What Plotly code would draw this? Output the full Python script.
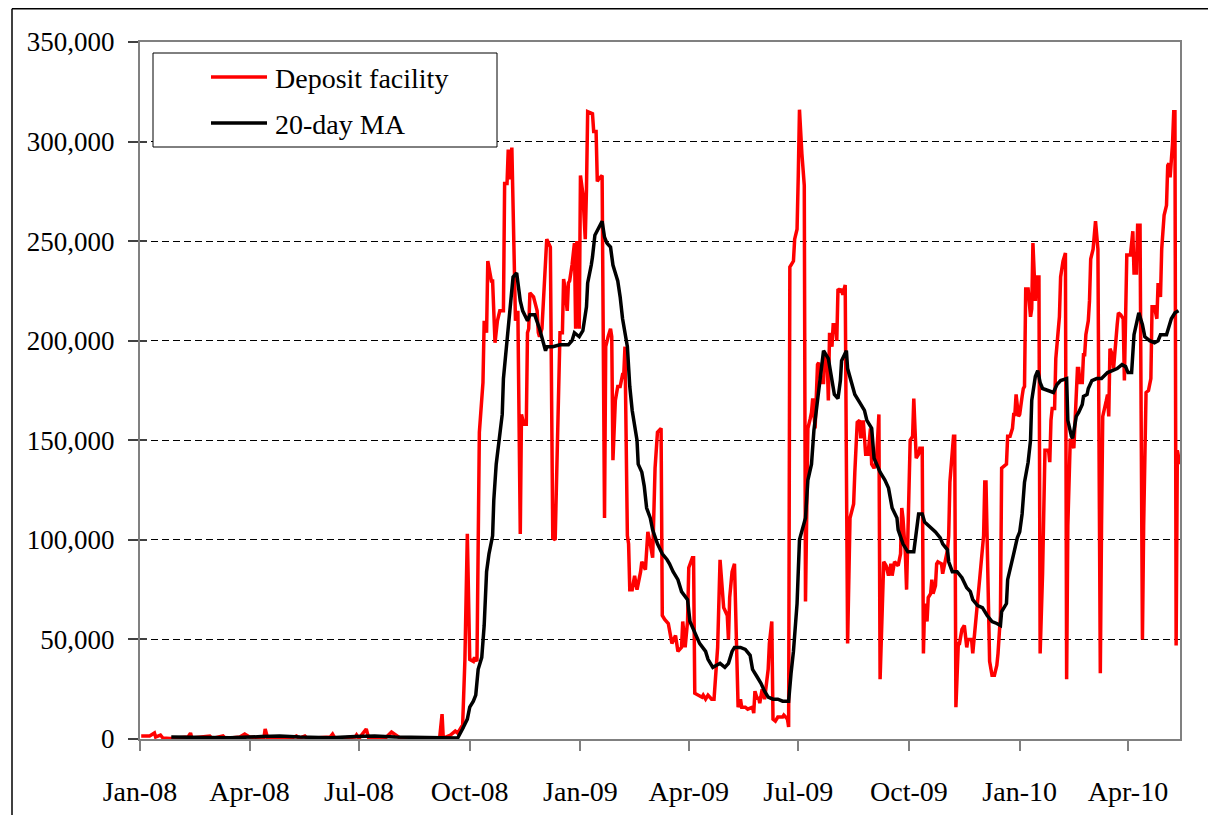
import pandas as pd
import plotly.graph_objects as go

# ---- data (values in EUR millions) ----
# observation day = days since 1 Jan 2008
red_day = [1, 8, 12, 13, 17, 19, 25, 32, 40, 42, 43, 58, 60, 69, 71, 83, 87, 91, 103, 104, 106, 125, 130, 132, 137, 139,
           158, 160, 162, 179, 180, 182, 188, 190, 204, 209, 212, 216, 233, 249, 251, 252, 258, 262, 264, 267, 268,
           270, 272, 274, 277, 278, 280, 282, 285, 286, 288, 289, 292, 293, 295, 297, 299, 302, 303, 305, 306, 307,
           309, 311, 312, 314, 316, 317, 319, 321, 322, 323, 324, 327, 330, 331, 332, 334, 337, 338, 341, 343, 345,
           347, 348, 349, 351, 352, 353, 355, 356, 357, 359, 361, 362, 363, 365, 366, 368, 370, 371, 372, 376, 377,
           379, 380, 381, 384, 386, 387, 389, 391, 392, 393, 395, 397, 399, 401, 402, 403, 405, 406, 407, 409, 411,
           413, 416, 417, 420, 422, 424, 426, 428, 430, 433, 434, 436, 439, 442, 445, 447, 450, 451, 453, 455, 456,
           459, 460, 461, 464, 467, 468, 470, 472, 475, 477, 479, 480, 482, 484, 485, 488, 489, 490, 492, 494, 496,
           497, 499, 500, 503, 505, 509, 510, 511, 513, 514, 515, 517, 519, 522, 523, 525, 526, 528, 530, 534, 535,
           538, 539, 540, 543, 544, 546, 547, 548, 550, 552, 553, 554, 555, 557, 558, 559, 561, 563, 564, 566, 568,
           569, 571, 572, 573, 575, 576, 578, 579, 580, 582, 583, 584, 586, 588, 590, 593, 594, 596, 598, 599, 601,
           603, 605, 607, 608, 610, 612, 613, 614, 615, 617, 618, 620, 622, 624, 625, 627, 630, 632, 633, 634, 636,
           637, 640, 642, 643, 645, 647, 648, 650, 651, 652, 654, 655, 657, 658, 659, 661, 662, 663, 666, 667, 669,
           671, 672, 673, 676, 677, 678, 680, 681, 683, 685, 687, 688, 691, 692, 694, 696, 698, 701, 702, 703, 705,
           706, 708, 710, 712, 713, 715, 716, 718, 720, 721, 723, 725, 726, 727, 728, 730, 731, 733, 734, 735, 736,
           738, 740, 741, 742, 744, 745, 747, 748, 750, 751, 752, 755, 756, 757, 758, 760, 761, 763, 764, 765, 767,
           769, 770, 771, 773, 774, 776, 779, 780, 781, 783, 784, 785, 786, 788, 789, 790, 792, 794, 796, 798, 799,
           800, 803, 804, 805, 806, 808, 809, 812, 813, 815, 817, 818, 820, 823, 825, 826, 828, 829, 831, 833, 834,
           836, 838, 840, 841, 843, 845, 846, 848, 849, 851, 853, 854, 855, 856, 858, 859, 860, 861, 862, 864]
red_val = [1500, 1500, 3000, 1000, 2000, 500, 300, 500, 1000, 3000, 500, 1500, 300, 1500, 300, 1000, 2500, 1000, 500,
           5000, 500, 300, 1500, 300, 1500, 300, 1000, 2500, 300, 1000, 2000, 300, 5000, 500, 500, 3500, 2000, 500,
           300, 500, 12500, 500, 2000, 4000, 3000, 6000, 5000,
           40000, 103000, 40000, 39000, 41000, 39000, 154000, 179000, 210000, 204000, 240000, 230000, 230000, 199000,
           210000, 215000, 215000, 279000, 279000, 296000, 281000, 297000, 247000, 210000, 215000, 103000, 163000,
           158000, 158000, 204000, 206000, 224000, 222000, 215000, 204000, 202000, 206000, 244000, 251000, 247000,
           101000, 100000, 163000, 179000, 204000, 204000, 231000, 227000, 215000, 229000, 230000, 238000, 249000,
           206000, 250000, 206000, 283000, 274000, 251000, 276000, 315000, 314000, 305000, 305000, 280000, 281000,
           283000, 111000, 197000, 202000, 206000, 202000, 140000, 170000, 177000, 177000, 183000, 183000, 197000,
           102000, 98000, 75000, 75000, 82000, 75000, 84000, 89000, 85000, 104000, 98000, 91000, 136000, 154000,
           156000, 62000, 60000, 58000, 48000, 52000, 44000, 46000, 59000, 46000, 59000, 86000, 91000, 91000, 23000,
           22000, 21000, 22000, 20000, 22000, 20000, 20000, 39000, 46000, 90000, 71000, 66000, 62000, 50000, 71000,
           84000, 88000, 26000, 16000, 20000, 16000, 16000, 15000, 16000, 13000, 24000, 20000, 21000, 18000, 25000,
           20000, 35000, 48000, 59000, 10000, 9000, 11000, 11000, 12000, 10000, 6000, 237000, 240000, 251000, 256000,
           283000, 316000, 294000, 278000, 69000, 114000, 156000, 161000, 164000, 171000, 156000, 188000, 189000,
           179000, 179000, 192000, 192000, 170000, 204000, 197000, 208000, 208000, 200000, 226000, 225000, 226000,
           223000, 228000, 48000, 111000, 118000, 134000, 159000, 160000, 151000, 160000, 143000, 143000, 156000,
           138000, 136000, 140000, 151000, 163000, 30000, 73000, 89000, 87000, 82000, 88000, 82000, 89000, 87000,
           93000, 116000, 111000, 93000, 75000, 150000, 152000, 171000, 141000, 143000, 146000, 146000, 43000,
           68000, 59000, 71000, 73000, 80000, 73000, 77000, 88000, 89000, 88000, 83000, 89000, 95000, 102000,
           129000, 152000, 152000, 16000, 48000, 48000, 55000, 57000, 46000, 50000, 50000, 43000, 55000, 71000,
           82000, 102000, 129000, 129000, 59000, 39000, 32000, 32000, 37000, 43000, 62000, 136000, 137000, 138000,
           152000, 152000, 156000, 163000, 163000, 173000, 162000, 163000, 172000, 176000, 177000, 226000, 226000,
           212000, 216000, 249000, 220000, 232000, 232000, 43000, 83000, 112000, 145000, 145000, 139000, 160000,
           166000, 166000, 191000, 205000, 212000, 232000, 240000, 244000, 30000, 107000, 150000, 150000, 146000,
           186000, 186000, 179000, 179000, 193000, 193000, 203000, 210000, 220000, 241000, 246000, 260000, 246000,
           33000, 107000, 162000, 170000, 173000, 162000, 196000, 193000, 186000, 208000, 214000, 213000, 211000,
           180000, 243000, 243000, 255000, 234000, 234000, 258000, 258000, 50000, 107000, 174000, 175000, 181000,
           217000, 217000, 211000, 229000, 222000, 246000, 263000, 268000, 288000, 289000, 282000, 299000, 315000,
           315000, 47000, 145000, 138000]

ma_day = [26, 50, 75, 101, 116, 133, 158, 179, 195, 212, 233, 249, 262, 264, 268, 272, 274, 277, 279, 281, 284, 286,
          288, 290, 293, 294, 296, 298, 301, 302, 305, 307, 310, 313, 316, 318, 322, 324, 328, 332, 335, 337, 338,
          343, 349, 356, 359, 361, 365, 368, 371, 372, 375, 376, 378, 381, 384, 386, 388, 391, 393, 395, 397, 399,
          401, 405, 407, 409, 411, 413, 414, 417, 419, 421, 424, 426, 430, 434, 438, 440, 443, 447, 450, 455, 457,
          461, 465, 470, 472, 476, 479, 482, 486, 489, 492, 494, 499, 503, 507, 509, 513, 516, 519, 522, 526, 530,
          534, 539, 541, 543, 546, 548, 553, 555, 558, 560, 563, 565, 568, 572, 575, 577, 580, 582, 583, 587, 588,
          591, 594, 598, 602, 604, 608, 610, 615, 619, 622, 625, 629, 630, 634, 638, 643, 647, 650, 652, 656, 661,
          665, 667, 671, 672, 675, 679, 683, 687, 690, 692, 696, 700, 704, 708, 712, 715, 716, 720, 721, 724, 726,
          729, 731, 733, 735, 738, 740, 741, 744, 746, 748, 750, 755, 759, 762, 765, 770, 771, 774, 775, 778, 780,
          783, 784, 787, 788, 791, 795, 799, 804, 808, 812, 816, 819, 821, 824, 826, 830, 833, 835, 839, 843, 846,
          848, 853, 854, 857, 860, 863]
ma_val = [1000, 800, 600, 1200, 1500, 1000, 600, 1200, 1500, 1000, 800, 600, 500, 500, 5000, 10000, 16000, 19000,
          22000, 35000, 41000, 57000, 84000, 93000, 102000, 120000, 138000, 147000, 163000, 181000, 199000, 215000,
          232000, 234000, 220000, 215000, 210000, 213000, 213000, 206000, 199000, 195000, 197000, 197000, 198000,
          198000, 200000, 204000, 202000, 205000, 217000, 229000, 238000, 242000, 253000, 257000, 260000, 252000,
          249000, 247000, 238000, 234000, 230000, 222000, 211000, 197000, 177000, 165000, 156000, 150000, 138000,
          134000, 127000, 116000, 111000, 105000, 98000, 93000, 90000, 88000, 84000, 80000, 74000, 70000, 59000,
          53000, 48000, 44000, 40000, 36000, 37000, 38000, 36000, 38000, 44000, 46000, 46000, 45000, 42000, 35000,
          31000, 28000, 24000, 21000, 20000, 20000, 19000, 19000, 33000, 44000, 68000, 100000, 111000, 130000,
          138000, 155000, 170000, 181000, 195000, 191000, 180000, 173000, 171000, 180000, 190000, 195000, 186000,
          180000, 173000, 169000, 165000, 160000, 156000, 141000, 134000, 130000, 126000, 116000, 111000, 105000,
          98000, 94000, 94000, 113000, 113000, 109000, 107000, 104000, 101000, 98000, 95000, 89000, 84000, 84000,
          81000, 76000, 74000, 70000, 67000, 66000, 62000, 59000, 58000, 57000, 64000, 68000, 80000, 89000, 93000,
          101000, 104000, 113000, 129000, 139000, 150000, 170000, 182000, 185000, 179000, 176000, 175000, 174000,
          178000, 180000, 181000, 160000, 152000, 151000, 162000, 164000, 168000, 172000, 173000, 176000, 180000,
          181000, 181000, 184000, 185000, 186000, 188000, 187000, 184000, 184000, 203000, 214000, 208000, 202000,
          200000, 199000, 200000, 203000, 203000, 205000, 211000, 214000, 215000]

series_names = ["Deposit facility", "20-day MA"]
x_tick_dates = ["2008-01-01", "2008-04-01", "2008-07-01", "2008-10-01", "2009-01-01",
                "2009-04-01", "2009-07-01", "2009-10-01", "2010-01-01", "2010-04-01"]
x_tick_labels = ["Jan-08", "Apr-08", "Jul-08", "Oct-08", "Jan-09",
                 "Apr-09", "Jul-09", "Oct-09", "Jan-10", "Apr-10"]
y_ticks = [0, 50000, 100000, 150000, 200000, 250000, 300000, 350000]
x_range = ["2008-01-01", "2010-05-14 05:00"]

# ---- build figure ----
base = pd.Timestamp("2008-01-01")
red_dates = base + pd.to_timedelta(red_day, unit="D")
ma_dates = base + pd.to_timedelta(ma_day, unit="D")

FONT = "Liberation Serif, Times New Roman, serif"
fig = go.Figure()
fig.add_trace(go.Scatter(x=red_dates, y=red_val, mode="lines", name=series_names[0],
                         line=dict(color="#FF0000", width=3.5), showlegend=False))
fig.add_trace(go.Scatter(x=ma_dates, y=ma_val, mode="lines", name=series_names[1],
                         line=dict(color="#000000", width=3.5), showlegend=False))
# invisible helper trace so the inner half of the crossing y ticks can be drawn
fig.add_trace(go.Scatter(x=[x_range[0]], y=[0], yaxis="y2", mode="markers",
                         marker=dict(opacity=0), hoverinfo="skip", showlegend=False))

# The page keeps the browser's default 8px body margin, so the figure is laid out
# in page pixels shifted by OFF.
OFF = 8
W, H = 1216, 815
L, T = 140 - OFF, 42 - OFF           # plot area left / top
R = W - (1180 - OFF)                  # plot area right edge at page x 1180
B = H - (739 - OFF)                   # x axis at page y 739
pw, ph = W - L - R, H - T - B


def px(xp):  # page pixel -> paper x
    return (xp - OFF - L) / pw


def py(yp):  # page pixel -> paper y
    return (H - B - (yp - OFF)) / ph


shapes = [
    # outer chart frame (only left and top edges fall inside the picture)
    dict(type="line", xref="paper", yref="paper", x0=px(12), x1=px(12), y0=py(8.8), y1=py(822),
         line=dict(color="black", width=1.5), layer="above"),
    dict(type="line", xref="paper", yref="paper", x0=px(12), x1=px(1223), y0=py(8.8), y1=py(8.8),
         line=dict(color="black", width=1.5), layer="above"),
    # legend box
    dict(type="rect", xref="paper", yref="paper", x0=px(153), x1=px(497), y0=py(53), y1=py(147),
         line=dict(color="black", width=1), fillcolor="white", layer="above"),
    dict(type="line", xref="paper", yref="paper", x0=px(211), x1=px(267), y0=py(77), y1=py(77),
         line=dict(color="#FF0000", width=3.5), layer="above"),
    dict(type="line", xref="paper", yref="paper", x0=px(211), x1=px(267), y0=py(123), y1=py(123),
         line=dict(color="#000000", width=3.5), layer="above"),
]
annotations = [
    dict(xref="paper", yref="paper", x=px(273), y=py(78), text=series_names[0], showarrow=False,
         xanchor="left", yanchor="middle", font=dict(family=FONT, size=28, color="black")),
    dict(xref="paper", yref="paper", x=px(273), y=py(124), text=series_names[1], showarrow=False,
         xanchor="left", yanchor="middle", font=dict(family=FONT, size=28, color="black")),
]

fig.update_layout(
    width=W, height=H,
    margin=dict(l=L, r=R, t=T, b=B, pad=0),
    paper_bgcolor="white", plot_bgcolor="white",
    font=dict(family=FONT, size=27, color="black"),
    shapes=shapes, annotations=annotations,
    showlegend=False,
    xaxis=dict(type="date", range=x_range, tickvals=x_tick_dates, ticktext=x_tick_labels,
               ticks="outside", ticklen=10, tickcolor="#808080", tickwidth=1.5,
               showline=True, linecolor="#808080", linewidth=2, mirror=True,
               showgrid=False, zeroline=False, tickfont=dict(size=28), ticklabelstandoff=16),
    yaxis=dict(range=[0, 350000], tickvals=y_ticks, tickformat=",d",
               ticks="outside", ticklen=10, tickcolor="#404040", tickwidth=1.5,
               showline=True, linecolor="#808080", linewidth=2, mirror=True,
               showgrid=True, gridcolor="black", gridwidth=1, griddash="7px,4px",
               zeroline=False, tickfont=dict(size=27), ticklabelstandoff=8),
    yaxis2=dict(range=[0, 350000], tickvals=y_ticks, overlaying="y", side="left", anchor="x",
                ticks="inside", ticklen=7, tickcolor="#404040", tickwidth=1.5,
                showticklabels=False, showgrid=False, showline=False, zeroline=False),
)

fig.write_html("out.html", config={"displayModeBar": False})
